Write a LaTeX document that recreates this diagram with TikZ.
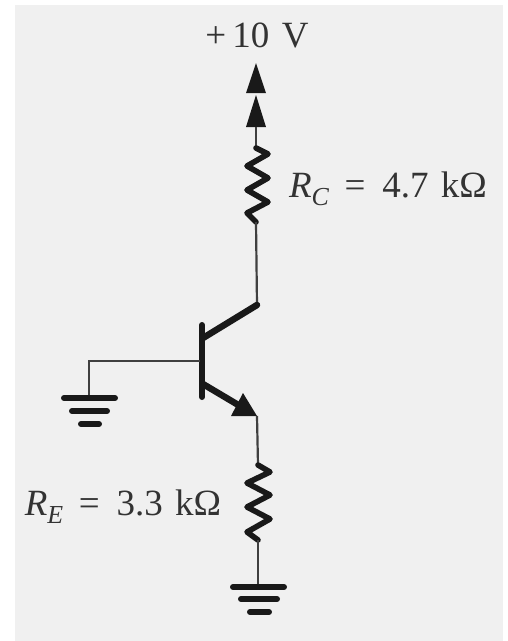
\documentclass[tikz,border=0pt]{standalone}
\usepackage{fontspec}
\setmainfont{Liberation Serif}
\begin{document}
\begin{tikzpicture}[x=1pt,y=-1pt,
  wire/.style={draw=black!75,line width=2.2pt},
  res/.style={draw=black!90,line width=5.6pt,line join=round,line cap=round},
  thick bar/.style={draw=black!90,line width=6pt,line cap=round},
  gnd/.style={draw=black!90,line width=6pt,line cap=round},
  tip/.style={fill=black!90,draw=none},
  lab/.style={inner sep=0pt,anchor=base,text=black!80,font=\fontsize{37}{40}\selectfont}]
\useasboundingbox (0,0) rectangle (508,641);
\fill[white] (0,0) rectangle (508,641);
\fill[black!6] (15,5) rectangle (503,641);
% text
\node[lab] (vcc) at (257,47) {+\,10\,\,V};
\node[lab] (rc) at (388,197) {$\mathit{R}_{\mathit{C}}$\hspace{15pt}=\hspace{17pt}4.7\hspace{3pt} kΩ};
\node[lab] (re) at (123,515) {$\mathit{R}_{\mathit{E}}$\hspace{15pt}=\hspace{17pt}3.3\hspace{3pt} kΩ};
% points
\coordinate (top) at (256,63);
\coordinate (a2) at (256,95);
\coordinate (a3) at (256,127);
\coordinate (r1t) at (256,148);
\coordinate (r1b) at (256,222);
\coordinate (c) at (257,305);
\coordinate (bartop) at (202,325);
\coordinate (barbot) at (202,397);
\coordinate (cb) at (203,338);
\coordinate (eb) at (203,384);
\coordinate (base) at (200,361);
\coordinate (bc) at (89,361);
\coordinate (g1) at (89,398);
\coordinate (e) at (257,416);
\coordinate (r2t) at (258,465);
\coordinate (r2b) at (258,540);
\coordinate (g2) at (258,587);
% arrows
\fill[tip] (top) -- (266,93) -- (246,93) -- cycle;
\fill[tip] (a2) -- (266,127) -- (246,127) -- cycle;
\draw[wire] (a3) -- (r1t);
% upper resistor
\draw[res] (r1t) -- (268,154) -- (247,166) -- (268,178) -- (247,190) -- (268,202) -- (247,213) -- (r1b);
\draw[wire] (r1b) -- (c);
% transistor
\draw[thick bar] (bartop) -- (barbot);
\draw[draw=black!90,line width=6.5pt,line cap=round] (cb) -- (c);
\draw[draw=black!90,line width=6.5pt] (eb) -- (240,406);
\fill[tip] (e) -- (243,393) -- (231,416) -- cycle;
\draw[wire] (base) -- (bc) -- (g1);
% left ground
\draw[gnd] (64,398) -- (115,398);
\draw[gnd] (72,411) -- (107,411);
\draw[gnd] (81,424) -- (99,424);
% lower resistor
\draw[wire] (e) -- (r2t);
\draw[res] (r2t) -- (270,472) -- (247,483) -- (270,495) -- (247,507) -- (270,519) -- (247,532) -- (r2b);
\draw[wire] (r2b) -- (g2);
% lower ground
\draw[gnd] (233,587) -- (284,587);
\draw[gnd] (241,599) -- (277,599);
\draw[gnd] (250,612) -- (269,612);
\end{tikzpicture}
\end{document}
